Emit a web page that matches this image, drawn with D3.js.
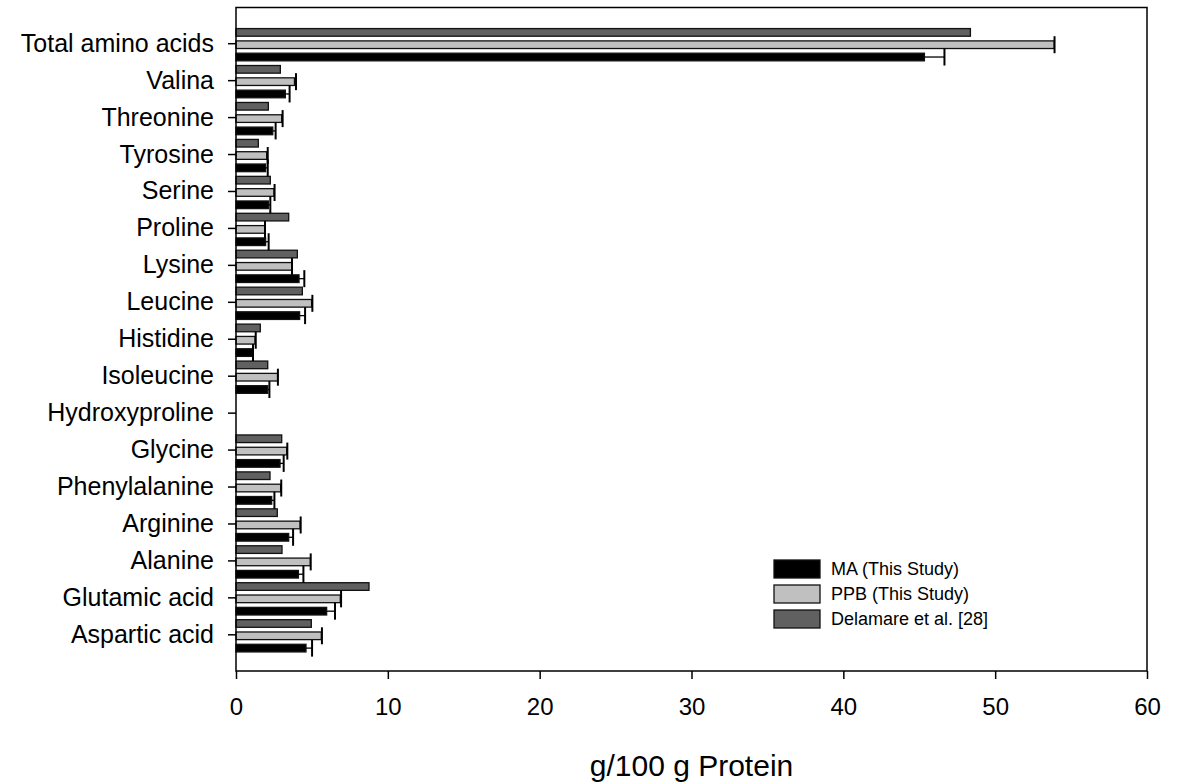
<!DOCTYPE html>
<html>
<head>
<meta charset="utf-8">
<script src="https://cdn.jsdelivr.net/npm/d3@7"></script>
<style>
  html, body { margin: 0; padding: 0; background: #fff; }
  svg { display: block; font-family: "Liberation Sans", Arial, sans-serif; }
</style>
</head>
<body>
<svg id="chart" width="1192" height="782"></svg>
<script>
const categories = ["Total amino acids", "Valina", "Threonine", "Tyrosine", "Serine", "Proline", "Lysine", "Leucine", "Histidine", "Isoleucine", "Hydroxyproline", "Glycine", "Phenylalanine", "Arginine", "Alanine", "Glutamic acid", "Aspartic acid"];
const seriesNames = ["Delamare et al. [28]", "PPB (This Study)", "MA (This Study)"];
const legendOrder = ["MA (This Study)", "PPB (This Study)", "Delamare et al. [28]"];
const maValues   = [45.34, 3.25, 2.42, 1.95, 2.13, 1.95, 4.15, 4.19, 1.08, 2.09, 0, 2.90, 2.35, 3.47, 4.11, 5.97, 4.61];
const maErrors   = [1.32, 0.28, 0.19, 0.14, 0.13, 0.20, 0.35, 0.36, 0.04, 0.11, 0, 0.24, 0.18, 0.29, 0.33, 0.55, 0.40];
const ppbValues  = [53.89, 3.85, 3.01, 2.02, 2.50, 1.89, 3.67, 4.98, 1.25, 2.74, 0, 3.34, 2.94, 4.22, 4.90, 6.87, 5.62];
const ppbErrors  = [0.02, 0.10, 0.06, 0.07, 0.04, 0.02, 0.02, 0.05, 0.05, 0.02, 0, 0.04, 0.04, 0.04, 0.02, 0.05, 0.04];
const delValues  = [48.37, 2.92, 2.13, 1.47, 2.26, 3.47, 4.04, 4.37, 1.60, 2.09, 0, 3.01, 2.24, 2.72, 3.03, 8.76, 4.96];
const xTicks = [0, 10, 20, 30, 40, 50, 60];
const xTitle = "g/100 g Protein";

const colors = {"MA (This Study)": "#000000", "PPB (This Study)": "#c0c0c0", "Delamare et al. [28]": "#606060"};

const rows = [];
categories.forEach((c, i) => {
  rows.push({cat: c, series: "Delamare et al. [28]", v: delValues[i], e: null});
  rows.push({cat: c, series: "PPB (This Study)", v: ppbValues[i], e: ppbErrors[i]});
  rows.push({cat: c, series: "MA (This Study)", v: maValues[i], e: maErrors[i]});
});

const svg = d3.select("#chart");
const L = 236, R = 1147, T = 7.5, B = 671;

const x = d3.scaleLinear().domain([0, 60]).range([L, R]);
const y = d3.scaleBand().domain(categories).range([T, B]).paddingInner(0).paddingOuter(0.48);
const ySub = d3.scaleBand().domain(seriesNames).range([0, y.bandwidth()]).paddingInner(0.38).paddingOuter(0.19);

const g = svg.append("g").attr("transform", "translate(0,1)");

// bars
g.selectAll("rect.bar").data(rows.filter(d => d.v > 0)).join("rect")
  .attr("class", "bar")
  .attr("x", x(0))
  .attr("y", d => y(d.cat) + ySub(d.series))
  .attr("width", d => x(d.v) - x(0))
  .attr("height", ySub.bandwidth())
  .attr("fill", d => colors[d.series])
  .attr("stroke", "#111")
  .attr("stroke-width", 1.3);

// error bars
const errRows = rows.filter(d => d.e !== null && d.v > 0);
g.selectAll("line.err").data(errRows).join("line")
  .attr("x1", d => x(d.v)).attr("x2", d => x(d.v + d.e))
  .attr("y1", d => y(d.cat) + ySub(d.series) + ySub.bandwidth() / 2)
  .attr("y2", d => y(d.cat) + ySub(d.series) + ySub.bandwidth() / 2)
  .attr("stroke", "#000").attr("stroke-width", 1.3);
g.selectAll("line.cap").data(errRows).join("line")
  .attr("x1", d => x(d.v + d.e)).attr("x2", d => x(d.v + d.e))
  .attr("y1", d => y(d.cat) + ySub(d.series) + ySub.bandwidth() / 2 - 8.5)
  .attr("y2", d => y(d.cat) + ySub(d.series) + ySub.bandwidth() / 2 + 8.5)
  .attr("stroke", "#000").attr("stroke-width", 2);

// frame
svg.append("rect").attr("x", L).attr("y", T).attr("width", R - L).attr("height", B - T)
  .attr("fill", "none").attr("stroke", "#000").attr("stroke-width", 1.5);

// x axis
const xAxis = svg.append("g").attr("transform", `translate(0,${B})`)
  .call(d3.axisBottom(x).tickValues(xTicks).tickFormat(d3.format("d")).tickSizeOuter(0).tickSizeInner(8).tickPadding(19));
xAxis.select(".domain").remove();
xAxis.selectAll("line").attr("stroke", "#000").attr("stroke-width", 1.5);
xAxis.selectAll("text").attr("font-size", 24).attr("fill", "#000").attr("font-family", "'Liberation Sans', Arial, sans-serif");

// y axis
const yAxis = svg.append("g").attr("transform", `translate(${L},0)`)
  .call(d3.axisLeft(y).tickSizeOuter(0).tickSizeInner(8).tickPadding(14));
yAxis.select(".domain").remove();
yAxis.selectAll("line").attr("stroke", "#000").attr("stroke-width", 1.5);
yAxis.selectAll("text").attr("font-size", 25).attr("fill", "#000").attr("font-family", "'Liberation Sans', Arial, sans-serif");

// x title
svg.append("text").attr("x", (L + R) / 2).attr("y", 776).attr("text-anchor", "middle")
  .attr("font-size", 30).attr("fill", "#000").text(xTitle);

// legend
const lg = svg.append("g").attr("transform", "translate(774,560)");
legendOrder.forEach((s, i) => {
  const row = lg.append("g").attr("transform", `translate(0,${i * 25})`);
  row.append("rect").attr("width", 46).attr("height", 18).attr("fill", colors[s]).attr("stroke", "#111").attr("stroke-width", 1.3);
  row.append("text").attr("x", 57).attr("y", 9).attr("dominant-baseline", "central")
    .attr("font-size", 18).attr("fill", "#000").text(s);
});
</script>
</body>
</html>
